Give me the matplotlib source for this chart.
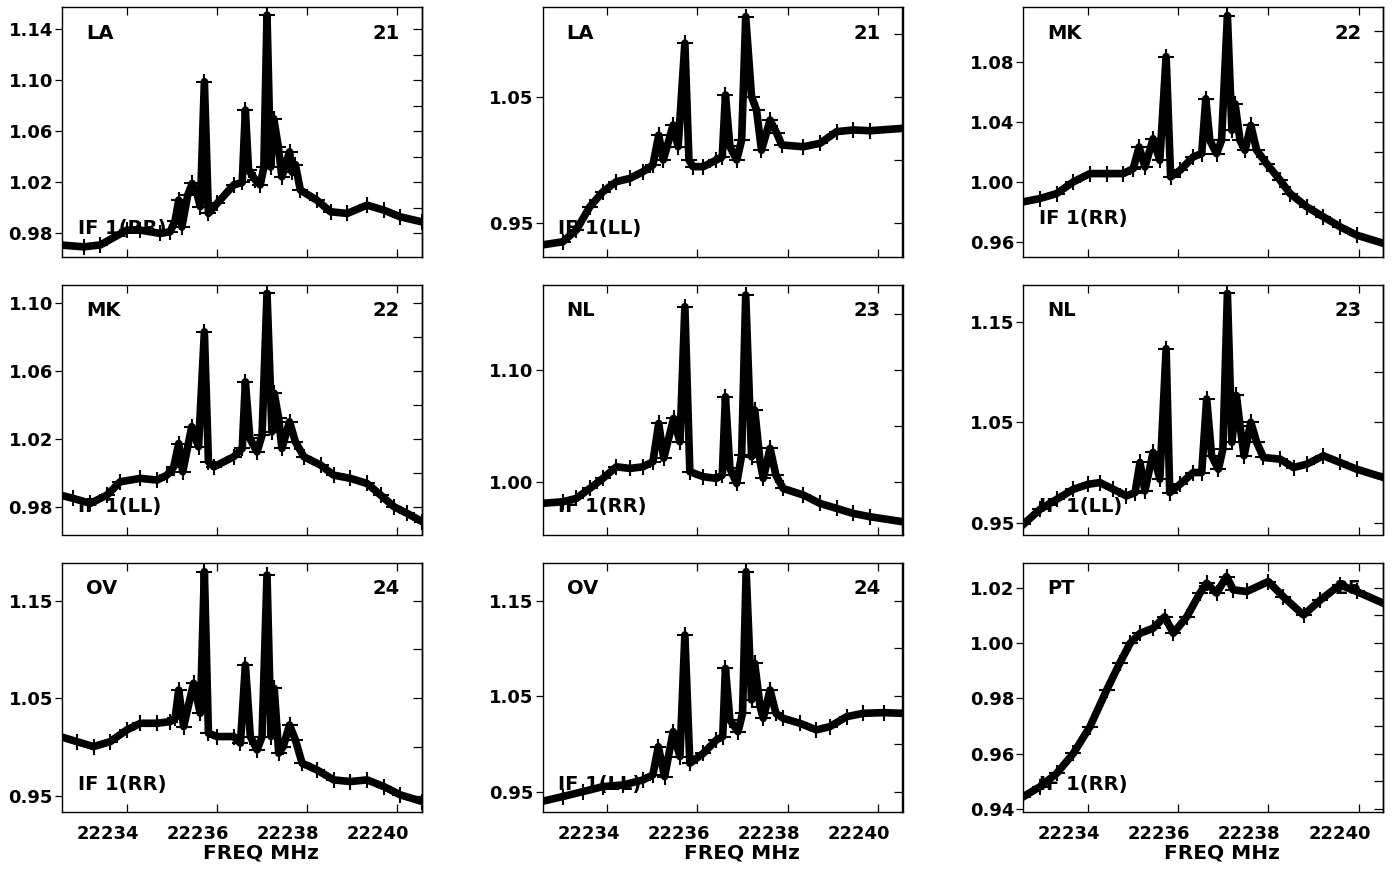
import numpy as np
import matplotlib
matplotlib.use("Agg")
import matplotlib.pyplot as plt
from matplotlib.transforms import ScaledTranslation

plt.rcParams['font.family'] = ['DejaVu Sans']
plt.rcParams['font.weight'] = 'bold'

# spectra (FREQ MHz, amplitude)
f_la_rr = [22232.52, 22233.04, 22233.41, 22234.0, 22234.3, 22234.74, 22234.96, 22235.07, 22235.15, 22235.22,
           22235.35, 22235.45, 22235.55, 22235.63, 22235.72, 22235.81, 22236.0, 22236.37, 22236.56, 22236.63,
           22236.7, 22236.85, 22236.96, 22237.04, 22237.11, 22237.19, 22237.26, 22237.36, 22237.44, 22237.61,
           22237.67, 22237.74, 22237.85, 22238.22, 22238.52, 22238.89, 22239.33, 22239.7, 22240.07, 22240.56]
a_la_rr = [0.971, 0.9695, 0.971, 0.9826, 0.9826, 0.980, 0.9813, 0.990, 1.0062, 0.985,
           1.010, 1.0192, 1.012, 1.001, 1.099, 0.9957, 1.0035, 1.018, 1.020, 1.0767,
           1.030, 1.022, 1.018, 1.032, 1.1512, 1.032, 1.070, 1.048, 1.0244, 1.044,
           1.028, 1.034, 1.014, 1.006, 0.997, 0.9957, 1.0022, 0.9983, 0.993, 0.989]

f_la_ll = [22232.53, 22233.01, 22233.31, 22233.61, 22233.9, 22234.2, 22234.5, 22234.79, 22235.01, 22235.14,
           22235.24, 22235.46, 22235.57, 22235.72, 22235.81, 22235.9, 22236.13, 22236.42, 22236.55, 22236.62,
           22236.72, 22236.87, 22236.98, 22237.07, 22237.2, 22237.31, 22237.42, 22237.61, 22237.76, 22237.87,
           22238.35, 22238.72, 22239.09, 22239.46, 22239.83, 22240.56]
a_la_ll = [0.9328, 0.9354, 0.9447, 0.9632, 0.9751, 0.9831, 0.9857, 0.991, 0.9963, 1.020,
           1.0003, 1.028, 1.0108, 1.0929, 1.0003, 0.995, 0.995, 1.0003, 1.003, 1.0519,
           1.011, 1.0003, 1.016, 1.114, 1.0505, 1.040, 1.008, 1.032, 1.0214, 1.0122,
           1.0108, 1.0135, 1.0228, 1.0241, 1.0235, 1.0254]

f_mk_rr = [22232.56, 22232.93, 22233.3, 22233.67, 22234.04, 22234.41, 22234.78, 22235.0, 22235.13, 22235.26,
           22235.44, 22235.59, 22235.73, 22235.83, 22236.04, 22236.33, 22236.52, 22236.61, 22236.7, 22236.85,
           22236.96, 22237.09, 22237.19, 22237.26, 22237.37, 22237.48, 22237.61, 22237.74, 22237.96, 22238.26,
           22238.48, 22238.85, 22239.22, 22239.59, 22239.96, 22240.56]
a_mk_rr = [0.9866, 0.9888, 0.9921, 0.9999, 1.0054, 1.0054, 1.0054, 1.0087, 1.0231, 1.0098,
           1.0286, 1.0142, 1.0833, 1.0032, 1.0076, 1.0165, 1.0187, 1.0552, 1.0275, 1.0187,
           1.0275, 1.1106, 1.0342, 1.0519, 1.0275, 1.0209, 1.0375, 1.0209, 1.012, 1.001,
           0.9921, 0.9833, 0.9766, 0.970, 0.9644, 0.9589]

f_mk_ll = [22232.52, 22232.81, 22233.19, 22233.56, 22233.85, 22234.3, 22234.67, 22234.89, 22235.04, 22235.15,
           22235.24, 22235.44, 22235.59, 22235.72, 22235.81, 22235.93, 22236.37, 22236.56, 22236.63, 22236.73,
           22236.89, 22237.0, 22237.11, 22237.22, 22237.27, 22237.37, 22237.44, 22237.61, 22237.74, 22237.93,
           22238.3, 22238.59, 22238.96, 22239.33, 22239.63, 22239.93, 22240.22, 22240.56]
a_mk_ll = [0.9873, 0.9853, 0.9824, 0.9873, 0.9951, 0.9971, 0.9961, 0.999, 1.0039, 1.0176,
           1.001, 1.0275, 1.0157, 1.0833, 1.0069, 1.0039, 1.0098, 1.0147, 1.0539, 1.0206,
           1.0127, 1.0225, 1.1059, 1.0245, 1.0471, 1.0324, 1.0147, 1.0304, 1.0186, 1.0098,
           1.0049, 0.999, 0.9971, 0.9941, 0.9873, 0.9804, 0.9765, 0.9716]

f_nl_rr = [22232.53, 22233.01, 22233.31, 22233.61, 22233.9, 22234.2, 22234.5, 22234.79, 22235.01, 22235.14,
           22235.25, 22235.47, 22235.61, 22235.72, 22235.83, 22236.13, 22236.42, 22236.55, 22236.62, 22236.72,
           22236.87, 22236.98, 22237.07, 22237.2, 22237.27, 22237.39, 22237.46, 22237.61, 22237.74, 22237.9,
           22238.35, 22238.72, 22239.09, 22239.46, 22239.83, 22240.56]
a_nl_rr = [0.9806, 0.9821, 0.9851, 0.994, 1.003, 1.0134, 1.0119, 1.0134, 1.0179, 1.0522,
           1.0209, 1.0567, 1.0358, 1.1567, 1.009, 1.0045, 1.003, 1.006, 1.0761, 1.0119,
           0.9985, 1.0239, 1.1672, 1.0224, 1.0642, 1.0179, 1.003, 1.0299, 1.006, 0.994,
           0.9881, 0.9806, 0.9761, 0.9716, 0.9687, 0.9642]

f_nl_ll = [22232.56, 22232.93, 22233.3, 22233.67, 22234.0, 22234.26, 22234.56, 22234.85, 22235.04, 22235.15,
           22235.26, 22235.44, 22235.59, 22235.73, 22235.81, 22236.04, 22236.33, 22236.52, 22236.63, 22236.74,
           22236.89, 22236.99, 22237.09, 22237.19, 22237.29, 22237.37, 22237.46, 22237.61, 22237.74, 22237.89,
           22238.26, 22238.56, 22238.85, 22239.22, 22239.59, 22239.96, 22240.56]
a_nl_ll = [0.9483, 0.9633, 0.9733, 0.9833, 0.9883, 0.990, 0.9833, 0.9767, 0.980, 1.010,
           0.9817, 1.020, 0.9933, 1.1233, 0.980, 0.9883, 1.000, 1.000, 1.0733, 1.0167,
           1.0033, 1.0233, 1.1783, 1.030, 1.0767, 1.0467, 1.0167, 1.050, 1.030, 1.015,
           1.0133, 1.005, 1.0083, 1.0167, 1.010, 1.0033, 0.995]

f_ov_rr = [22232.52, 22232.89, 22233.26, 22233.63, 22234.0, 22234.3, 22234.67, 22234.96, 22235.07, 22235.15,
           22235.26, 22235.48, 22235.63, 22235.72, 22235.81, 22236.0, 22236.37, 22236.52, 22236.63, 22236.74,
           22236.89, 22237.0, 22237.11, 22237.2, 22237.27, 22237.37, 22237.47, 22237.61, 22237.74, 22237.89,
           22238.22, 22238.59, 22238.96, 22239.33, 22239.7, 22240.07, 22240.56]
a_ov_rr = [1.0108, 1.0056, 1.0005, 1.0056, 1.0176, 1.0244, 1.0244, 1.0261, 1.0295, 1.0585,
           1.021, 1.0654, 1.0346, 1.1797, 1.0142, 1.0108, 1.0108, 1.0039, 1.0841, 1.0108,
           0.9971, 1.0108, 1.1763, 1.0108, 1.0602, 0.9937, 1.0005, 1.0227, 1.0073, 0.9834,
           0.9766, 0.9664, 0.9647, 0.9664, 0.9596, 0.951, 0.9442]

f_ov_ll = [22232.53, 22233.01, 22233.46, 22233.9, 22234.35, 22234.79, 22235.01, 22235.13, 22235.27, 22235.46,
           22235.61, 22235.72, 22235.83, 22236.13, 22236.42, 22236.56, 22236.62, 22236.72, 22236.9, 22237.0,
           22237.08, 22237.2, 22237.27, 22237.39, 22237.46, 22237.61, 22237.74, 22237.9, 22238.27, 22238.64,
           22238.94, 22239.31, 22239.68, 22240.13, 22240.56]
a_ov_ll = [0.9395, 0.9448, 0.950, 0.9552, 0.957, 0.9622, 0.9675, 0.9971, 0.9657, 1.0128,
           0.9867, 1.114, 0.9797, 0.9901, 1.0041, 1.0076, 1.0791, 1.025, 1.0128, 1.032,
           1.1804, 1.046, 1.0844, 1.039, 1.0268, 1.0565, 1.032, 1.0268, 1.0216, 1.0146,
           1.0181, 1.0285, 1.032, 1.0327, 1.032]

f_pt_rr = [22232.56, 22232.93, 22233.3, 22233.67, 22234.04, 22234.41, 22234.7, 22234.93, 22235.15, 22235.44,
           22235.7, 22235.89, 22236.19, 22236.48, 22236.63, 22236.85, 22237.07, 22237.22, 22237.52, 22238.0,
           22238.33, 22238.78, 22239.15, 22239.59, 22239.96, 22240.56]
a_pt_rr = [0.9445, 0.9481, 0.9529, 0.9601, 0.9698, 0.983, 0.9927, 0.9999, 1.0035, 1.0053,
           1.0095, 1.0035, 1.0095, 1.018, 1.0216, 1.018, 1.024, 1.0192, 1.0186, 1.0222,
           1.0167, 1.0101, 1.0155, 1.021, 1.0186, 1.0143]

freqs = [f_la_rr, f_la_ll, f_mk_rr, f_mk_ll, f_nl_rr, f_nl_ll, f_ov_rr, f_ov_ll, f_pt_rr]
amps = [a_la_rr, a_la_ll, a_mk_rr, a_mk_ll, a_nl_rr, a_nl_ll, a_ov_rr, a_ov_ll, a_pt_rr]
stations = ['LA', 'LA', 'MK', 'MK', 'NL', 'NL', 'OV', 'OV', 'PT']
numbers = ['21', '21', '22', '22', '23', '23', '24', '24', '25']
pols = ['IF 1(RR)', 'IF 1(LL)', 'IF 1(RR)', 'IF 1(LL)', 'IF 1(RR)', 'IF 1(LL)', 'IF 1(RR)', 'IF 1(LL)', 'IF 1(RR)']

# axis ranges and tick steps per panel
ylims = [(0.9617, 1.1573), (0.9235, 1.1214), (0.9500, 1.1161),
         (0.9641, 1.1108), (0.9528, 1.1761), (0.9383, 1.1867),
         (0.9333, 1.1889), (0.9284, 1.1898), (0.9389, 1.0290)]
ylabel_ticks = [[0.98, 1.02, 1.06, 1.10, 1.14], [0.95, 1.05], [0.96, 1.00, 1.04, 1.08],
                [0.98, 1.02, 1.06, 1.10], [1.00, 1.10], [0.95, 1.05, 1.15],
                [0.95, 1.05, 1.15], [0.95, 1.05, 1.15], [0.94, 0.96, 0.98, 1.00, 1.02]]
right_step = [0.02, 0.05, 0.02, 0.02, 0.05, 0.05, 0.05, 0.05, 0.01]
xlim = (22232.56, 22240.55)
xticks = [22234, 22236, 22238, 22240]

W, H = 1395, 869
fig = plt.figure(figsize=(W / 100, H / 100), dpi=100)

col_left = [62, 542.5, 1023.3]
row_top = [7.3, 285, 562.7]
pw, ph = 360, 249.5
shift_left = ScaledTranslation(-19 / 100, 0, fig.dpi_scale_trans)

for i in range(9):
    r, c = divmod(i, 3)
    ax = fig.add_axes([col_left[c] / W, 1 - (row_top[r] + ph) / H, pw / W, ph / H])
    ax.plot(freqs[i], amps[i], color='black', lw=5.5, marker='+', ms=11, mew=1.5,
            solid_joinstyle='round', zorder=3)
    ax.set_xlim(*xlim)
    ax.set_ylim(*ylims[i])

    ax.set_xticks(xticks)
    ax.tick_params(axis='x', which='both', direction='in', top=True, bottom=True,
                   length=5.5, width=0.9, pad=9, labelsize=13)
    if r < 2:
        ax.set_xticklabels([])
    else:
        ax.set_xticklabels([str(t) for t in xticks], fontweight='bold')
        for lab in ax.get_xticklabels():
            lab.set_transform(lab.get_transform() + shift_left)
        ax.set_xlabel('FREQ MHz', fontsize=14.5, fontweight='bold')
        ax.xaxis.set_label_coords(0.553, -0.127)

    ax.set_yticks(ylabel_ticks[i])
    ax.set_yticklabels(['%.2f' % v for v in ylabel_ticks[i]], fontweight='bold')
    ax.tick_params(axis='y', direction='out', left=True, right=False,
                   length=5, width=0.9, pad=1.5, labelsize=13)

    lo, hi = ylims[i]
    st = right_step[i]
    rt = np.arange(np.ceil(lo / st - 1e-6) * st, hi, st)
    sec = ax.secondary_yaxis('right')
    sec.set_yticks(rt)
    sec.set_yticklabels([])
    sec.tick_params(direction='in', length=6.7, width=0.9)
    sec.spines['right'].set_linewidth(1.0)

    for s in ax.spines.values():
        s.set_linewidth(1.0)

    ax.text(24 / pw, 1 - 26 / ph, stations[i], transform=ax.transAxes, fontsize=14,
            fontweight='bold', ha='left', va='center', zorder=1)
    ax.text(1 - 22 / pw, 1 - 26 / ph, numbers[i], transform=ax.transAxes, fontsize=14,
            fontweight='bold', ha='right', va='center', zorder=1)
    yoff = 38 if i == 2 else 28
    ax.text(16 / pw, yoff / ph, pols[i], transform=ax.transAxes, fontsize=14,
            fontweight='bold', ha='left', va='center', zorder=1)

fig.savefig('out.png', dpi=100)
